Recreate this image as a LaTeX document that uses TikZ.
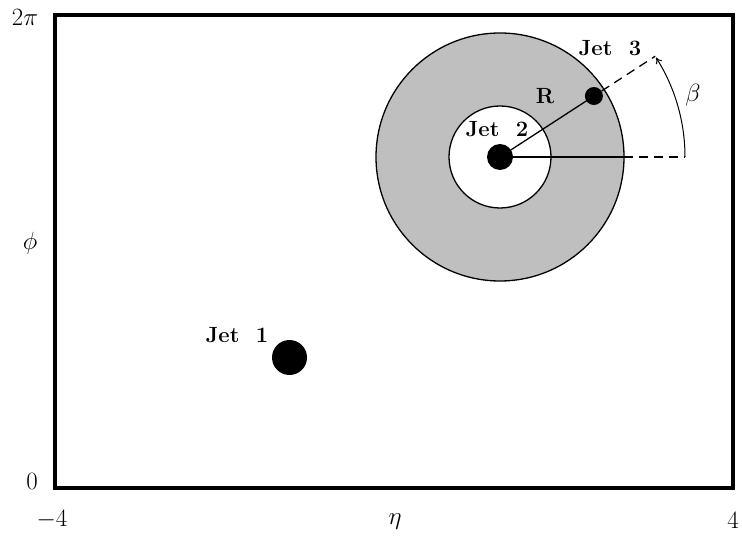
\documentclass[tikz,border=0pt]{standalone}
\usetikzlibrary{calc,arrows.meta}
\begin{document}
\begin{tikzpicture}[x=1pt,y=1pt,
  mlabel/.style={inner sep=0pt,font=\fontsize{28}{30}\selectfont},
  jlabel/.style={inner sep=0pt,font=\fontsize{22}{24}\selectfont\bfseries},
  jetdot/.style={circle,fill=black,inner sep=0pt},
  thinline/.style={line width=1.3pt},
  dashline/.style={line width=1.3pt,dash pattern=on 9pt off 6pt}]
\useasboundingbox (0,0) rectangle (742,544);
% frame
\draw[line width=3.5pt] (55,56) rectangle (733,529);
% annulus
\coordinate (C) at (500,387);
\draw[thinline,fill=black!25] (C) circle[radius=124];
\draw[thinline,fill=white] (C) circle[radius=51];
% points
\coordinate (Hend) at ($(C)+(185,0)$);
\coordinate (Hcut) at ($(C)+(124,0)$);
\coordinate (Rend) at ($(C)+(33:185)$);
\node[jetdot,minimum size=26pt] (J2) at (C) {};
\node[jetdot,minimum size=18pt] (J3) at ($(C)+(33:112)$) {};
\node[jetdot,minimum size=35pt] (J1) at (289.5,186.5) {};
% lines
\draw[thinline] (C) -- (J3.center);
\draw[dashline] (J3) -- (Rend);
\draw[thinline] (C) -- (Hcut);
\draw[dashline] (Hcut) -- (Hend);
\draw[line width=1pt,-{To[length=6pt,width=7pt]}] (Hend) arc[start angle=0,end angle=32.5,radius=185];
% labels
\node[jlabel] (L1) at (237,209) {Jet\ \ 1};
\node[jlabel] (L2) at (497,415) {Jet\ \ 2};
\node[jlabel] (L3) at (610,496) {Jet\ \ 3};
\node[jlabel] (LR) at (545,448) {R};
\node[mlabel] (Lb) at (693,449) {$\beta$};
\node[mlabel] (Y2) at (25,527) {$2\pi$};
\node[mlabel] (Yp) at (30,301) {$\phi$};
\node[mlabel] (Y0) at (32,63) {$0$};
\node[mlabel] (Xm) at (52,24) {$-4$};
\node[mlabel] (Xe) at (395,22) {$\eta$};
\node[mlabel] (Xp) at (733,24) {$4$};
\end{tikzpicture}
\end{document}
